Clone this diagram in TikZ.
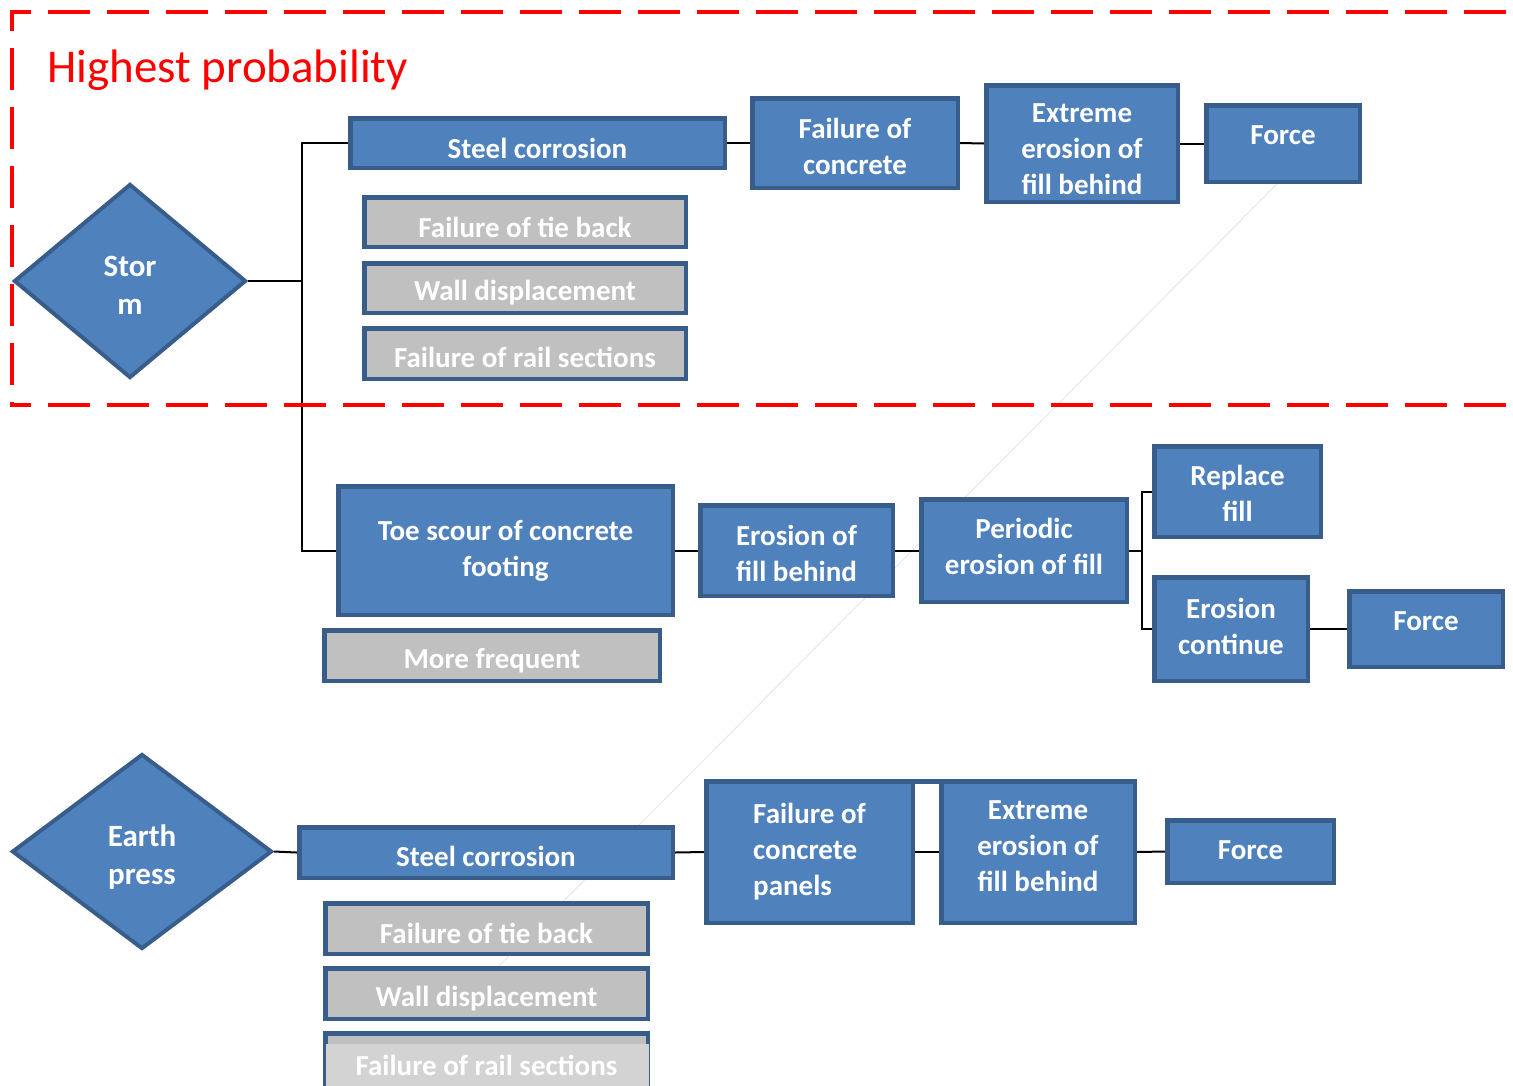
\documentclass[tikz,border=0pt]{standalone}
\usepackage{fontspec}
\setmainfont{Carlito}
\usetikzlibrary{shapes.geometric}
\definecolor{bfill}{HTML}{4F81BD}
\definecolor{bline}{HTML}{385D8A}
\definecolor{gfill}{HTML}{C0C0C0}
\definecolor{gfilltwo}{HTML}{D3D3D3}
\pgfdeclarelayer{bg}
\pgfsetlayers{bg,main}
\newcommand\mkbox[8]{%
  \node[#1, minimum width={(#5)-(#3)-4.5}, minimum height={(#6)-(#4)-4.5},
    label={[lbl,yshift={-(#8)}]center:{#7}}] (#2) at ({((#3)+(#5))/2},{((#4)+(#6))/2}) {};}
\begin{document}
\begin{tikzpicture}[x=1pt,y=-1pt,
  bbox/.style={draw=bline, line width=4.5pt, fill=bfill, inner sep=0pt, rectangle},
  gbox/.style={bbox, fill=gfill},
  lbl/.style={text=white, font=\fontsize{29}{36}\selectfont\bfseries, align=center, inner sep=0pt},
  dlbl/.style={lbl, font=\fontsize{31}{38}\selectfont\bfseries},
  conn/.style={draw=black, line width=2pt},
  diam/.style={draw=bline, line width=4pt, fill=bfill, diamond, inner sep=0pt},
  frame/.style={draw=red, line width=4pt, dash pattern=on 42pt off 17pt, dash phase=21pt},
  ghost/.style={draw=gray!22, line width=0.8pt},
]
\useasboundingbox (0,0) rectangle (1513,1085);

% frame
\draw[frame] (12,10) -- (12,405);
\draw[frame] (10,12) -- (1520,12);
\draw[frame] (10,405) -- (1520,405);
\node[anchor=base west, inner sep=0pt, text=red, font=\fontsize{47}{56}\selectfont] (title) at (47,82) {Highest probability};

% diamonds
\node[diam, minimum width=232, minimum height=194,
  label={[dlbl,yshift=-4]center:{Stor\\m}}] (storm) at (130,281) {};
\node[diam, minimum width=260, minimum height=195,
  label={[dlbl,yshift=-5.5]center:{Earth\\press}}] (earth) at (142,851.5) {};

% top row
\mkbox{bbox}{sc1}{348}{116}{727}{170}{Steel corrosion}{5}
\mkbox{bbox}{foc}{750}{96}{960}{190}{Failure of\\concrete}{3}
\mkbox{bbox}{ext1}{984}{83}{1180}{204}{Extreme\\erosion of\\fill behind}{6}
\mkbox{bbox}{f1}{1204}{103}{1362}{184}{Force}{-8}
\mkbox{gbox}{tb1}{362}{195}{688}{249}{Failure of tie back}{5}
\mkbox{gbox}{wd1}{362}{261}{688}{315}{Wall displacement}{5}
\mkbox{gbox}{rs1}{362}{326}{688}{381}{Failure of rail sections}{4}

% middle row
\mkbox{bbox}{toe}{336}{484}{675}{617}{Toe scour of concrete\\footing}{0}
\mkbox{gbox}{mf}{322}{628}{662}{683}{More frequent}{5}
\mkbox{bbox}{eof}{698}{503}{895}{598}{Erosion of\\fill behind}{3}
\mkbox{bbox}{per}{919}{497}{1129}{604}{Periodic\\erosion of fill}{-4}
\mkbox{bbox}{rep}{1152}{444}{1323}{539}{Replace\\fill}{2}
\mkbox{bbox}{ec}{1152}{575}{1310}{683}{Erosion\\continue}{-3}
\mkbox{bbox}{f2}{1347}{589}{1505}{669}{Force}{-8}

% bottom row
\mkbox{bbox}{sc2}{297}{825}{675}{880}{Steel corrosion}{4}
\node[bbox, minimum width=206.5, minimum height=141.5,
  label={[lbl,align=left,yshift=0]center:{Failure of\\concrete\\panels}}] (fcp) at (809.5,852) {};
\mkbox{bbox}{ext2}{939}{779}{1137}{925}{Extreme\\erosion of\\fill behind}{-6}
\fill[bline] (913,779) rectangle (941,783.5);
\mkbox{bbox}{f3}{1165}{818}{1336}{885}{Force}{-1.5}
\mkbox{gbox}{tb2}{323}{901}{650}{956}{Failure of tie back}{5}
\mkbox{gbox}{wd2}{323}{966}{650}{1021}{Wall displacement}{5}
\node[gbox, minimum width=322.5, minimum height=64.5] (rs2) at (486.5,1065.5) {};
\fill[gfilltwo] (326,1044) rectangle (648.5,1095);
\node[lbl] (rs2t) at (rs2.center) {Failure of rail sections};

% connectors
\begin{pgfonlayer}{bg}
\coordinate (ghostend) at (470,995);
\draw[ghost] ([xshift=-6pt]f1.south) -- (ghostend);
\draw[conn] (storm.east) -- ++(54,0) |- (sc1.west);
\draw[conn] (storm.east) -- ++(54,0) |- (toe.west);
\draw[conn] (sc1.east) -- (foc.west);
\draw[conn] (foc.east) -- (ext1.west);
\draw[conn] (ext1.east) -- (f1.west);
\draw[conn] (toe.east) -- (eof.west);
\draw[conn] (eof.east) -- (per.west);
\draw[conn] (per.east) -- ++(13,0) |- (rep.west);
\draw[conn] (per.east) -- ++(13,0) |- (ec.west);
\draw[conn] (ec.east) -- (f2.west);
\draw[conn] (earth.east) -- (sc2.west);
\draw[conn] (sc2.east) -- (fcp.west);
\draw[conn] (fcp.east) -- (ext2.west);
\draw[conn] (ext2.east) -- (f3.west);
\end{pgfonlayer}
\end{tikzpicture}
\end{document}
